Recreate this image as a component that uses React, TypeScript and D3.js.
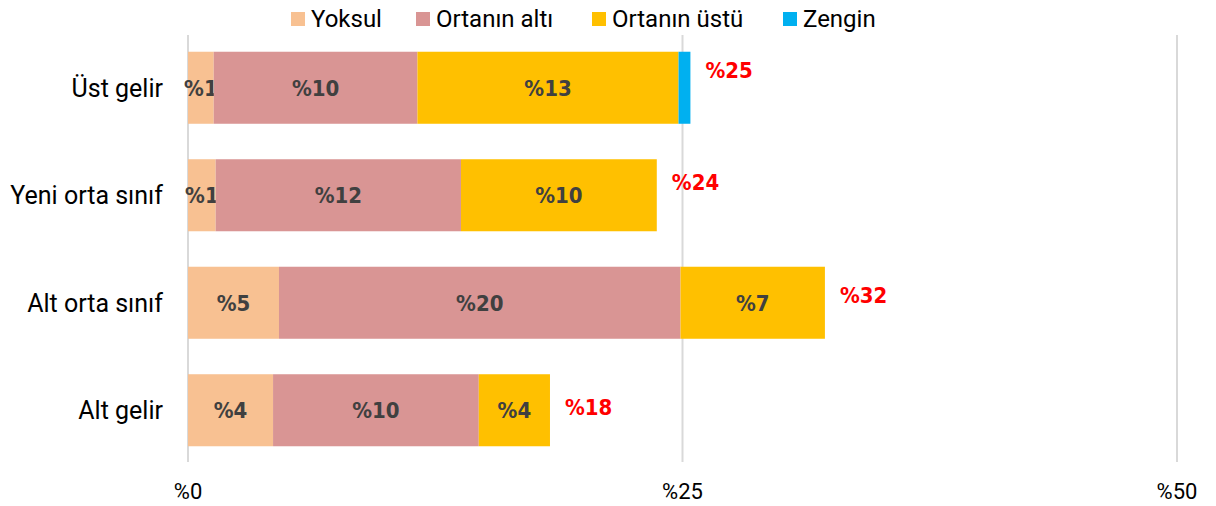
import React from "react";
import * as d3 from "d3";

const categories = ["Üst gelir", "Yeni orta sınıf", "Alt orta sınıf", "Alt gelir"];
const seriesNames = ["Yoksul", "Ortanın altı", "Ortanın üstü", "Zengin"];
const seriesColors = ["#F8C192", "#D99594", "#FFC000", "#00B0F0"];
const yoksul = [1.3, 1.4, 4.6, 4.3];
const ortaninAlti = [10.3, 12.4, 20.3, 10.4];
const ortaninUstu = [13.2, 9.9, 7.3, 3.6];
const zengin = [0.6, 0, 0, 0];
const xTicks = [0, 25, 50];

const FONT = "Roboto, 'Liberation Sans', sans-serif";
const BOLD = "'DejaVu Sans Condensed', 'DejaVu Sans', sans-serif";

export default function App() {
  const W = 1216, H = 506;
  const x = d3.scaleLinear().domain([0, 50]).range([188, 1177]);
  const y = d3.scaleBand().domain(categories).range([34, 464]).paddingInner(0.33).paddingOuter(0.165);
  const yTot = d3.scalePoint().domain(categories).range([70, 407]);
  const series = [yoksul, ortaninAlti, ortaninUstu, zengin];
  const rows = categories.map((c, i) => {
    const o: any = { cat: c };
    seriesNames.forEach((s, j) => (o[s] = series[j][i]));
    return o;
  });
  const stacked = d3.stack<any>().keys(seriesNames)(rows);
  const totals = rows.map((r) => d3.sum(seriesNames, (s) => r[s]));
  const legendX = [291, 416, 592, 783];
  return (
    <svg width={W} height={H} style={{ position: "absolute", left: 0, top: 0, background: "#fff" }}>
      {xTicks.map((t) => (
        <g key={t}>
          <line x1={x(t)} x2={x(t)} y1={35} y2={462} stroke="#D9D9D9" strokeWidth={2} />
          <text x={x(t)} y={499} textAnchor="middle" fontFamily={FONT} fontSize={22} fill="#000">
            %{t}
          </text>
        </g>
      ))}
      {stacked.map((layer, j) => (
        <g key={layer.key}>
          {layer.map((d, i) => {
            const w = x(d[1]) - x(d[0]);
            if (w <= 0) return null;
            const v = d[1] - d[0];
            return (
              <g key={i}>
                <rect x={x(d[0])} y={y(categories[i])} width={w} height={y.bandwidth()} fill={seriesColors[j]} />
                {v >= 1 && (
                  <text
                    x={(x(d[0]) + x(d[1])) / 2}
                    y={(y(categories[i]) as number) + y.bandwidth() / 2 + 8}
                    textAnchor="middle"
                    fontFamily={BOLD}
                    fontWeight="bold"
                    fontSize={22}
                    fill="#404040"
                  >
                    %{Math.round(v)}
                  </text>
                )}
              </g>
            );
          })}
        </g>
      ))}
      {categories.map((c, i) => (
        <g key={c}>
          <text
            x={163}
            y={(y(c) as number) + y.bandwidth() / 2 + 9}
            textAnchor="end"
            fontFamily={FONT}
            fontSize={25}
            fill="#000"
          >
            {c}
          </text>
          <text
            x={x(totals[i]) + 15}
            y={(yTot(c) as number) + 8}
            fontFamily={BOLD}
            fontWeight="bold"
            fontSize={22}
            fill="#FF0000"
          >
            %{Math.round(totals[i])}
          </text>
        </g>
      ))}
      {seriesNames.map((s, j) => (
        <g key={s}>
          <rect x={legendX[j]} y={12} width={14} height={14} fill={seriesColors[j]} />
          <text x={legendX[j] + 20} y={27} fontFamily={FONT} fontSize={24} fill="#000">
            {s}
          </text>
        </g>
      ))}
    </svg>
  );
}
